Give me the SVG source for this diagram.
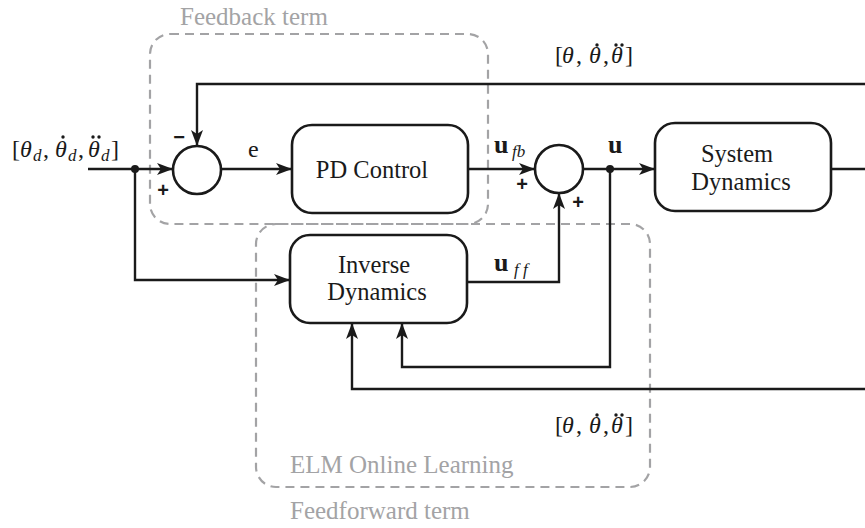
<svg xmlns="http://www.w3.org/2000/svg" width="865" height="528" viewBox="0 0 865 528">
<style>
.ln{fill:none;stroke:#1a1a1a;stroke-width:2.4}
.bx{fill:#fff;stroke:#1a1a1a;stroke-width:2.6}
.dash{fill:none;stroke:#a3a3a5;stroke-width:2.2;stroke-dasharray:9 6}
.tx{font-family:'Liberation Serif',Tinos,'Times New Roman',Times,serif;font-size:24.5px;fill:#1a1a1a}
.m{font-family:'Liberation Serif',Tinos,'Times New Roman',Times,serif;font-size:24px;fill:#1a1a1a}
.g{fill:#a3a3a5;font-size:25px}
.i{font-style:italic}
.b{font-weight:bold;font-size:26px}
.sub{font-style:italic;font-size:17px}
.dot{fill:#1a1a1a}
.s{font-family:'Liberation Sans',Arial,sans-serif;font-weight:bold;font-size:20px;fill:#1a1a1a}
</style>
<defs>
<marker id="ar" markerWidth="16" markerHeight="12" refX="15" refY="6" orient="auto" markerUnits="userSpaceOnUse">
<path d="M0,0 L16,6 L0,12 L4,6 Z" fill="#1a1a1a"/>
</marker>
</defs>
<g id="feedback-region">
<rect class="dash" x="150" y="34" width="338" height="190" rx="20"/>
<text class="tx g" x="180" y="25">Feedback term</text>
</g>
<g id="feedforward-region">
<rect class="dash" x="256" y="224" width="394" height="263" rx="20"/>
<text class="tx g" x="290" y="473">ELM Online Learning</text>
<text class="tx g" x="290" y="519">Feedforward term</text>
</g>
<g id="connectors">
<path class="ln" d="M88,169 H172" marker-end="url(#ar)"/>
<path class="ln" d="M221,169 H291" marker-end="url(#ar)"/>
<path class="ln" d="M468,169 H534" marker-end="url(#ar)"/>
<path class="ln" d="M583,169 H654" marker-end="url(#ar)"/>
<path class="ln" d="M831,169 H865"/>
<path class="ln" d="M865,84 H197 V145" marker-end="url(#ar)"/>
<path class="ln" d="M135,169 V280 H289" marker-end="url(#ar)"/>
<path class="ln" d="M467,282 H559 V194" marker-end="url(#ar)"/>
<path class="ln" d="M610,169 V367 H402 V324" marker-end="url(#ar)"/>
<path class="ln" d="M865,389 H352 V324" marker-end="url(#ar)"/>
<circle cx="135" cy="169" r="4" fill="#1a1a1a"/>
<circle cx="610" cy="169" r="4" fill="#1a1a1a"/>
</g>
<g id="sum1">
<circle class="bx" cx="197" cy="170" r="24"/>
<text class="s" x="179" y="144" text-anchor="middle">−</text>
<text class="s" x="163" y="197" text-anchor="middle">+</text>
</g>
<g id="sum2">
<circle class="bx" cx="559" cy="169" r="24"/>
<text class="s" x="522" y="191" text-anchor="middle">+</text>
<text class="s" x="578" y="209" text-anchor="middle">+</text>
</g>
<g id="pd-control">
<rect class="bx" x="292" y="125" width="176" height="88" rx="20"/>
<text class="tx" x="372" y="178" text-anchor="middle">PD Control</text>
</g>
<g id="system-dynamics">
<rect class="bx" x="655" y="123" width="176" height="88" rx="20"/>
<text class="tx" x="737" y="162" text-anchor="middle">System</text>
<text class="tx" x="741" y="190" text-anchor="middle">Dynamics</text>
</g>
<g id="inverse-dynamics">
<rect class="bx" x="290" y="235" width="177" height="88" rx="20"/>
<text class="tx" x="374" y="273" text-anchor="middle">Inverse</text>
<text class="tx" x="377" y="300" text-anchor="middle">Dynamics</text>
</g>
<g id="labels">
<text class="m" y="157"><tspan x="12">[</tspan><tspan class="i" x="20">θ</tspan><tspan class="sub" x="33" y="161">d</tspan><tspan x="43" y="157">,</tspan><tspan class="i" x="55">θ</tspan><tspan class="sub" x="68" y="161">d</tspan><tspan x="78" y="157">,</tspan><tspan class="i" x="88">θ</tspan><tspan class="sub" x="101" y="161">d</tspan><tspan x="111" y="157">]</tspan></text>
<circle class="dot" cx="63" cy="137" r="1.7"/>
<circle class="dot" cx="93" cy="137" r="1.7"/>
<circle class="dot" cx="99" cy="137" r="1.7"/>
<text class="m" x="248" y="157">e</text>
<text class="m" y="153"><tspan class="b" x="494">u</tspan><tspan class="sub" x="512" y="157">fb</tspan></text>
<text class="m b" x="608" y="153">u</text>
<text class="m" y="271"><tspan class="b" x="494">u</tspan><tspan class="sub" x="514" y="275">f f</tspan></text>
<text class="m" y="63"><tspan x="555">[</tspan><tspan class="i" x="562">θ</tspan><tspan x="576">,</tspan><tspan class="i" x="589">θ</tspan><tspan x="603">,</tspan><tspan class="i" x="611">θ</tspan><tspan x="625">]</tspan></text>
<circle class="dot" cx="597" cy="45" r="1.7"/>
<circle class="dot" cx="616" cy="45" r="1.7"/>
<circle class="dot" cx="622" cy="45" r="1.7"/>
<text class="m" y="433"><tspan x="555">[</tspan><tspan class="i" x="562">θ</tspan><tspan x="576">,</tspan><tspan class="i" x="589">θ</tspan><tspan x="603">,</tspan><tspan class="i" x="611">θ</tspan><tspan x="625">]</tspan></text>
<circle class="dot" cx="597" cy="415" r="1.7"/>
<circle class="dot" cx="616" cy="415" r="1.7"/>
<circle class="dot" cx="622" cy="415" r="1.7"/>
</g>
</svg>
